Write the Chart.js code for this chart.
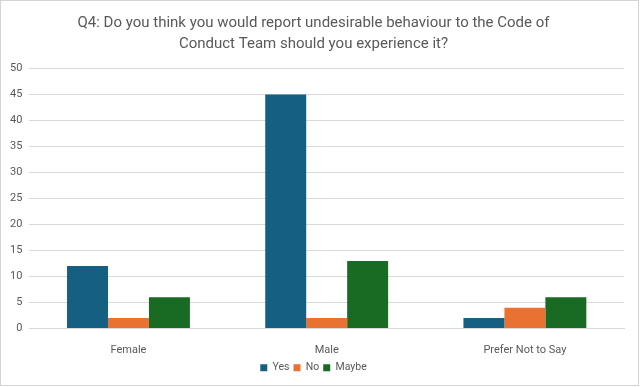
<!DOCTYPE html>
<html><head><meta charset="utf-8">
<script src="https://cdn.jsdelivr.net/npm/chart.js@4/dist/chart.umd.min.js"></script>
<style>
html,body{margin:0;padding:0;background:#fff;}
#wrap{position:absolute;left:0;top:0;width:639px;height:386px;border:1px solid #d4d4d4;box-sizing:border-box;}
canvas{display:block;}
</style></head><body>
<div id="wrap"><canvas id="c" width="637" height="384"></canvas></div>
<script>
const categories = ["Female", "Male", "Prefer Not to Say"];
const yesValues = [12, 45, 2];
const noValues = [2, 2, 4];
const maybeValues = [6, 13, 6];
const seriesNames = ["Yes", "No", "Maybe"];
const titleLines = ["Q4: Do you think you would report undesirable behaviour to the Code of", "Conduct Team should you experience it?"];

const colors = ["#156082", "#E97132", "#196B24"];
const font = "Roboto, 'Open Sans', sans-serif";

new Chart(document.getElementById('c'), {
  type: 'bar',
  data: {
    labels: categories,
    datasets: [
      {label: seriesNames[0], data: yesValues, backgroundColor: colors[0]},
      {label: seriesNames[1], data: noValues, backgroundColor: colors[1]},
      {label: seriesNames[2], data: maybeValues, backgroundColor: colors[2]}
    ]
  },
  options: {
    responsive: false,
    animation: false,
    layout: {padding: {left: 2, right: 14, top: 3, bottom: 2}},
    datasets: {bar: {barPercentage: 1.0, categoryPercentage: 0.62}},
    plugins: {
      title: {display: true, text: titleLines, color: '#595959',
        font: {family: font, size: 15, weight: 'normal', lineHeight: 1.45},
        padding: {top: 8, bottom: 13}},
      legend: {position: 'bottom',
        labels: {boxWidth: 7, boxHeight: 7, color: '#595959', padding: 4,
          font: {family: font, size: 10.5}}},
      tooltip: {enabled: false}
    },
    scales: {
      x: {
        grid: {display: false, drawTicks: false},
        border: {display: true, color: '#d9d9d9'},
        ticks: {color: '#595959', font: {family: font, size: 11}, padding: 15},
        afterFit: (s) => { s.height = 30; }
      },
      y: {
        min: 0, max: 50,
        ticks: {stepSize: 5, color: '#595959', font: {family: font, size: 11}, padding: 7},
        grid: {color: '#d9d9d9', drawTicks: false},
        border: {display: false}
      }
    }
  }
});
</script>
</body></html>
